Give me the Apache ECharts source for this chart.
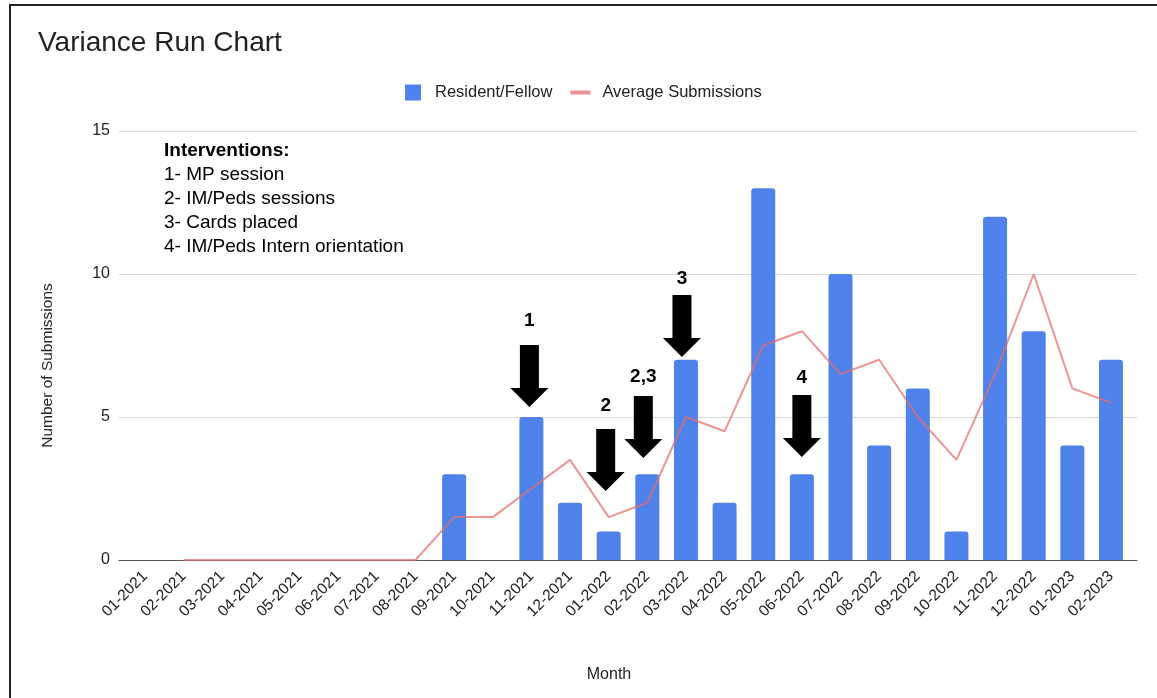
<!DOCTYPE html>
<html>
<head>
<meta charset="utf-8">
<title>Variance Run Chart</title>
<script src="https://cdn.jsdelivr.net/npm/echarts@6/dist/echarts.min.js"></script>
<style>
  html, body { margin: 0; padding: 0; background: #fff; }
  #chart { width: 1157px; height: 698px; }
</style>
</head>
<body>
<div id="chart"></div>
<script>
// Monthly submissions by residents/fellows, with the 2-month moving average
const months = [
  '01-2021', '02-2021', '03-2021', '04-2021', '05-2021', '06-2021', '07-2021', '08-2021',
  '09-2021', '10-2021', '11-2021', '12-2021', '01-2022', '02-2022', '03-2022', '04-2022',
  '05-2022', '06-2022', '07-2022', '08-2022', '09-2022', '10-2022', '11-2022', '12-2022',
  '01-2023', '02-2023'
];
const residentFellow = [0, 0, 0, 0, 0, 0, 0, 0, 3, 0, 5, 2, 1, 3, 7, 2, 13, 3, 10, 4, 6, 1, 12, 8, 4, 7];
const averageSubmissions = [null, 0, 0, 0, 0, 0, 0, 0, 1.5, 1.5, 2.5, 3.5, 1.5, 2, 5, 4.5, 7.5, 8, 6.5, 7, 5, 3.5, 6.5, 10, 6, 5.5];

const yMin = 0;
const yMax = 15;
const yStep = 5;

// Intervention arrows: month, tag shown above the arrow, value where the arrow tip points
const interventionMonths = ['11-2021', '01-2022', '02-2022', '03-2022', '06-2022'];
const interventionTags = ['1', '2', '2,3', '3', '4'];
const interventionTips = [5.35, 2.41, 3.57, 7.1, 3.6];

const interventionHeading = 'Interventions:';
const interventionNotes = [
  '1- MP session',
  '2- IM/Peds sessions',
  '3- Cards placed',
  '4- IM/Peds Intern orientation'
];

const FONT = '"Liberation Sans", Arial, Helvetica, sans-serif';
const INK = '#222';

// Arrow drawing tweaks (horizontal nudge and tag spacing)
const arrowNudge = [-2, -3, -4, -4, 0];
const tagGap = [15, 14, 10, 7, 8];
const ARROW = 'path://M9.5,0H28.5V43H38L19,62L0,43H9.5Z';

const chart = echarts.init(document.getElementById('chart'), null, { renderer: 'canvas' });

const arrowPoints = interventionMonths.map((m, i) => ({
  name: interventionTags[i],
  coord: [m, interventionTips[i]],
  symbolOffset: [arrowNudge[i], '-50%'],
  label: { distance: tagGap[i] }
}));

const noteText = ['{h|' + interventionHeading + '}']
  .concat(interventionNotes.map(t => '{t|' + t + '}'))
  .join('\n');

const option = {
  animation: false,
  backgroundColor: '#fff',
  textStyle: { fontFamily: FONT },
  title: {
    text: 'Variance Run Chart',
    left: 38,
    top: 29,
    padding: 0,
    textStyle: { fontFamily: FONT, fontSize: 28, fontWeight: 'normal', color: INK }
  },
  legend: {
    left: 405,
    top: 84,
    padding: 0,
    itemWidth: 20,
    itemHeight: 16,
    itemGap: 18,
    textStyle: { fontFamily: FONT, fontSize: 16.5, color: INK, padding: [0, 0, 0, 7] },
    data: [
      { name: 'Resident/Fellow', icon: 'path://M0,0H16V16H0Z' },
      { name: 'Average Submissions', icon: 'path://M0,0H20V4H0Z' }
    ]
  },
  grid: [
    { left: 119, right: 20, top: 131, bottom: 138 },
    { left: 125.7, right: 26.7, top: 131, bottom: 138 }
  ],
  xAxis: [
    {
      gridIndex: 0,
      type: 'category',
      data: months,
      axisLine: { show: true, lineStyle: { color: '#555', width: 1 } },
      axisTick: { show: false },
      axisLabel: { show: false },
      splitLine: { show: false },
      name: 'Month',
      nameLocation: 'middle',
      nameGap: 107,
      nameTextStyle: { fontFamily: FONT, fontSize: 16, color: INK, padding: [0, 38, 0, 0] }
    },
    {
      gridIndex: 1,
      type: 'category',
      data: months,
      axisLine: { show: false },
      axisTick: { show: false },
      splitLine: { show: false },
      axisLabel: {
        rotate: 45,
        margin: 14,
        interval: 0,
        fontFamily: FONT,
        fontSize: 15.5,
        color: INK
      }
    }
  ],
  yAxis: [
    {
      gridIndex: 0,
      type: 'value',
      min: yMin,
      max: yMax,
      interval: yStep,
      axisLine: { show: false },
      axisTick: { show: false },
      axisLabel: { margin: 9, fontFamily: FONT, fontSize: 16, color: INK },
      splitLine: { lineStyle: { color: '#d9d9d9', width: 1 } },
      name: 'Number of Submissions',
      nameLocation: 'middle',
      nameGap: 63,
      nameTextStyle: { fontFamily: FONT, fontSize: 15.5, color: INK, padding: [0, 40, 0, 0] }
    },
    {
      gridIndex: 1,
      type: 'value',
      min: yMin,
      max: yMax,
      interval: yStep,
      show: false,
      splitLine: { show: false }
    }
  ],
  series: [
    {
      name: 'Resident/Fellow',
      type: 'bar',
      xAxisIndex: 1,
      yAxisIndex: 1,
      data: residentFellow,
      barWidth: 24,
      itemStyle: { color: '#4f82ea', borderRadius: [3, 3, 0, 0] },
      markPoint: {
        symbol: ARROW,
        symbolSize: [38, 62],
        symbolKeepAspect: false,
        silent: true,
        itemStyle: { color: '#000' },
        label: {
          show: true,
          position: 'top',
          formatter: '{b}',
          fontFamily: FONT,
          fontSize: 19,
          fontWeight: 'bold',
          color: '#000'
        },
        data: arrowPoints
      }
    },
    {
      name: 'Average Submissions',
      type: 'line',
      xAxisIndex: 1,
      yAxisIndex: 1,
      data: averageSubmissions,
      symbol: 'none',
      showSymbol: false,
      connectNulls: false,
      itemStyle: { color: '#eb8f8f' },
      lineStyle: { color: 'rgba(229,108,108,0.72)', width: 2 },
      z: 3
    }
  ],
  graphic: [
    {
      type: 'rect',
      silent: true,
      shape: { x: 10, y: 5, width: 1200, height: 800 },
      style: { fill: 'none', stroke: '#222', lineWidth: 2 }
    },
    {
      type: 'text',
      silent: true,
      left: 164,
      top: 141,
      style: {
        text: noteText,
        fill: '#000',
        font: '19px ' + FONT,
        rich: {
          h: { fontFamily: FONT, fontSize: 19, fontWeight: 'bold', lineHeight: 24, fill: '#000' },
          t: { fontFamily: FONT, fontSize: 19, lineHeight: 24, fill: '#000' }
        }
      }
    }
  ]
};

chart.setOption(option);
</script>
</body>
</html>
